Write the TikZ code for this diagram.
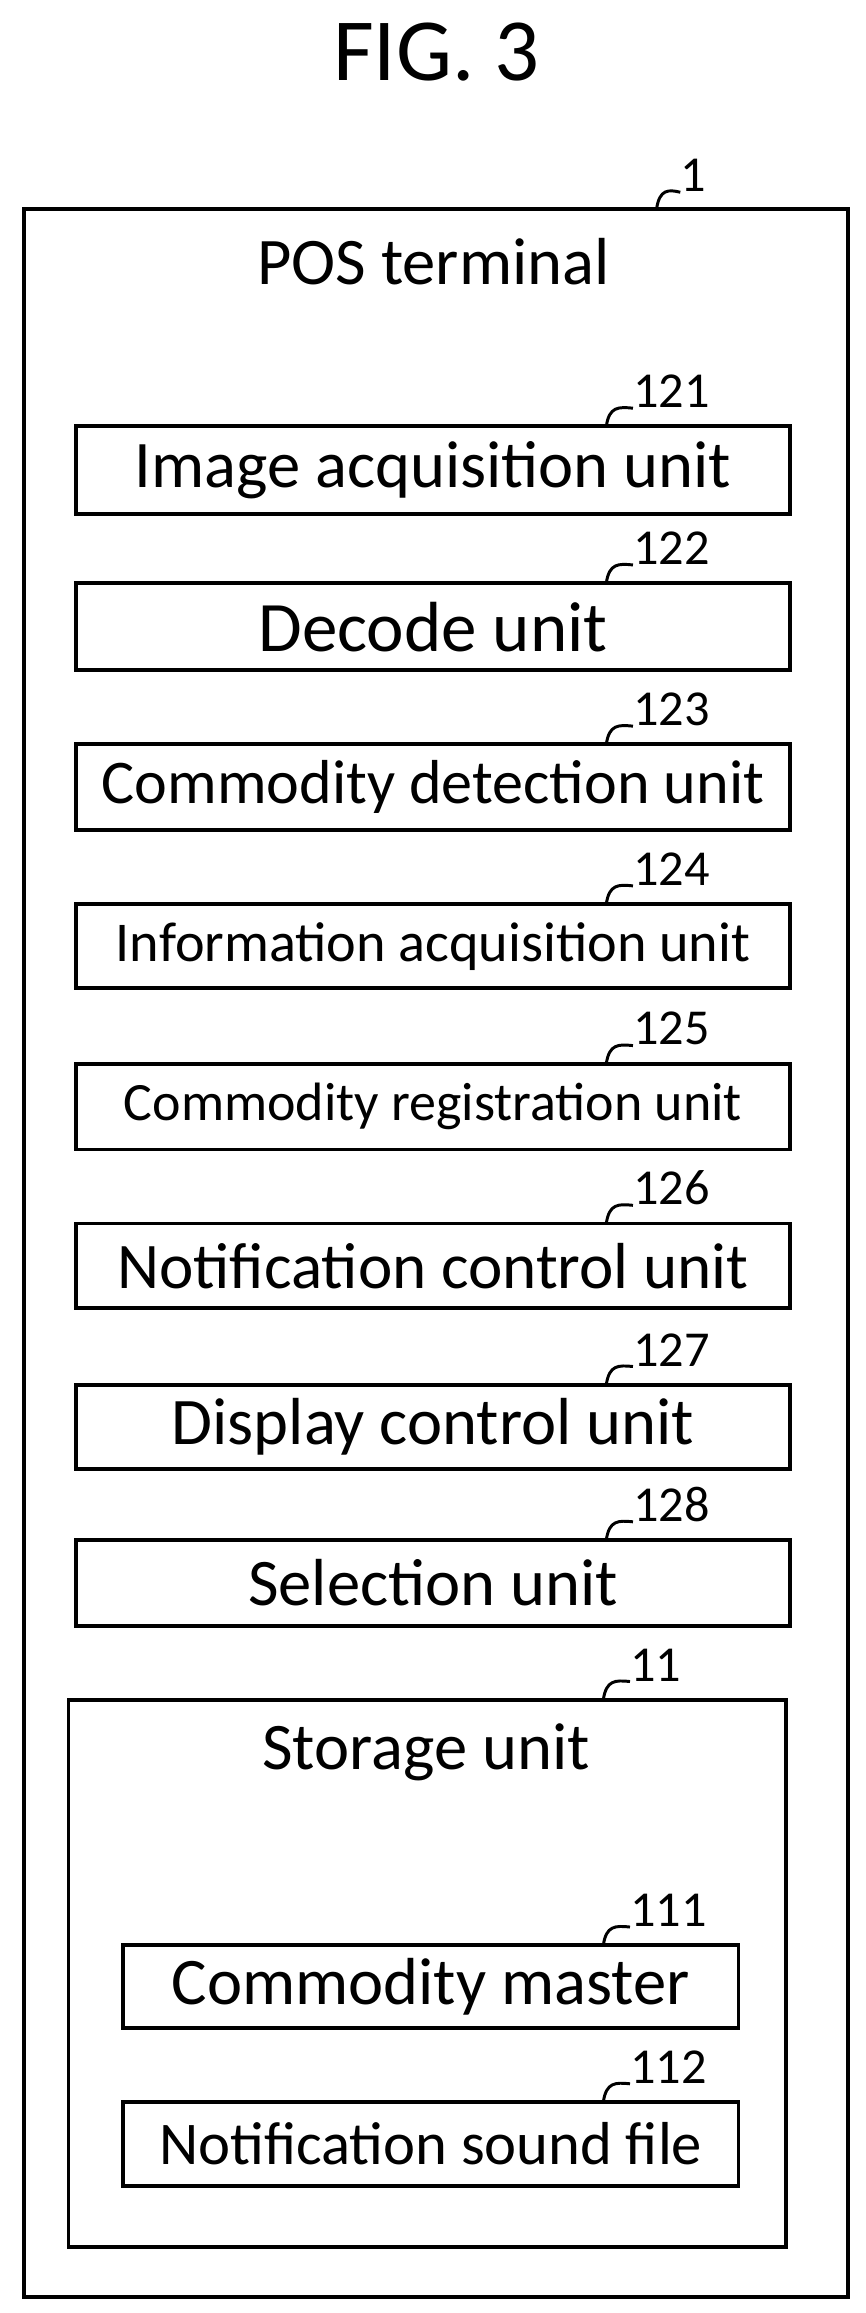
\documentclass[tikz,border=0pt]{standalone}
\usepackage{fontspec}
\setmainfont{Carlito}
\begin{document}
\begin{tikzpicture}[x=1pt,y=-1pt,
  box/.style={draw,line width=2.6pt,inner sep=0pt},
  num/.style={font=\fontsize{34}{36}\selectfont,anchor=south west,inner sep=0pt},
  lead/.style={line width=2pt}]
\useasboundingbox (0,0) rectangle (585,1564);
\node (title) at (295,35) {\fontsize{60}{66}\selectfont FIG. 3};
\node[box,minimum width=557pt,minimum height=1412pt,anchor=north west] (pos) at (15,140) {};
\node (postext) at (293,177) {\fontsize{45}{48}\selectfont POS terminal};
\node[num] (n1) at (460,130) {1};
\draw[lead] (444,141) .. controls (446,128) and (452,128) .. (n1.south west);
\foreach \nm/\y/\h/\txt/\fs/\lab in {
  b121/287/59/Image acquisition unit/45/121,
  b122/393/59/Decode unit/48/122,
  b123/502/58/Commodity detection unit/42/123,
  b124/610/57/Information acquisition unit/38/124,
  b125/718/58/Commodity registration unit/36.5/125,
  b126/826/57/Notification control unit/44/126,
  b127/935/57/Display control unit/45/127,
  b128/1040/58/Selection unit/45/128}{
  \node[box,minimum width=483pt,minimum height=\h pt,anchor=north west,
        font=\fontsize{\fs}{\fs}\selectfont] (\nm) at (50,\y) {\txt};
  \node[num] (l\nm) at (428,\y-11) {\lab};
  \draw[lead] (410,\y+1) .. controls (412,\y-12) and (418,\y-12) .. (l\nm.south west);
}
\node[box,minimum width=485pt,minimum height=370pt,anchor=north west] (stor) at (45,1148) {};
\node (stortext) at (288,1185) {\fontsize{45}{48}\selectfont Storage unit};
\node[num] (l11) at (426,1137) {11};
\draw[lead] (408,1149) .. controls (410,1136) and (416,1136) .. (l11.south west);
\node[box,minimum width=416pt,minimum height=56pt,anchor=north west,font=\fontsize{45}{45}\selectfont] (b111) at (82,1314) {Commodity master};
\node[num] (l111) at (426,1303) {111};
\draw[lead] (408,1315) .. controls (410,1302) and (416,1302) .. (l111.south west);
\node[box,minimum width=416pt,minimum height=57pt,anchor=north west,font=\fontsize{41}{41}\selectfont] (b112) at (82,1420) {Notification sound file};
\node[num] (l112) at (426,1409) {112};
\draw[lead] (408,1421) .. controls (410,1408) and (416,1408) .. (l112.south west);
\end{tikzpicture}
\end{document}
